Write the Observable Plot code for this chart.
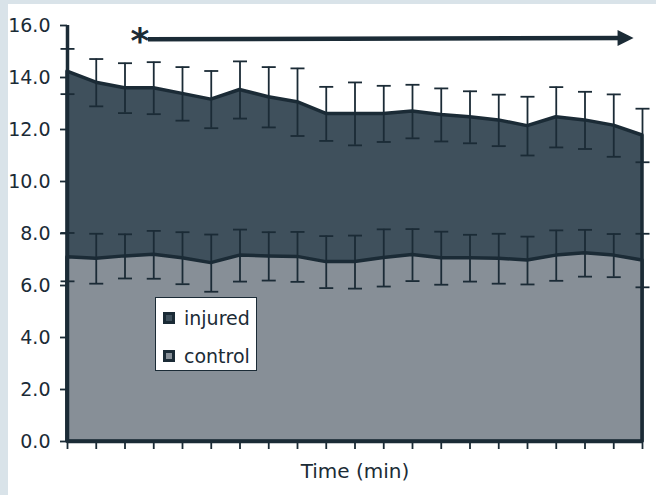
<!DOCTYPE html>
<html>
<head>
<meta charset="utf-8">
<script src="https://cdn.jsdelivr.net/npm/d3@7"></script>
<script src="https://cdn.jsdelivr.net/npm/@observablehq/plot@0.6"></script>
<style>
  html, body { margin: 0; padding: 0; width: 656px; height: 495px; overflow: hidden; background: #d9e3e9; }
  #panel { position: absolute; left: 8px; top: 4px; width: 648px; height: 491px; background: #ffffff; }
  #legend { position: absolute; left: 147px; top: 293px; width: 102px; height: 74px; box-sizing: border-box;
            border: 1.5px solid #1b2b36; background: #ffffff; font-family: "DejaVu Sans"; font-size: 19px; color: #1b2b36; }
  .item { position: absolute; left: 7px; height: 24px; display: flex; align-items: center; }
  .sw { width: 12px; height: 12px; box-sizing: border-box; border: 3px solid #1b2b36; margin-right: 9px; }
</style>
</head>
<body>
<div id="panel"></div>
<script>
// ---- data ----
const timePoints = [0,1,2,3,4,5,6,7,8,9,10,11,12,13,14,15,16,17,18,19,20];
const injuredMean = [14.23,13.80,13.59,13.59,13.37,13.15,13.52,13.24,13.05,12.60,12.60,12.60,12.69,12.56,12.47,12.35,12.13,12.47,12.35,12.15,11.77];
const injuredSD   = [0.87,0.91,0.96,1.00,1.03,1.10,1.10,1.16,1.30,1.04,1.21,1.08,1.03,1.02,1.00,0.99,1.13,1.16,1.10,1.20,1.03];
const controlMean = [7.09,7.03,7.12,7.18,7.05,6.86,7.15,7.12,7.10,6.90,6.90,7.06,7.17,7.05,7.05,7.03,6.96,7.15,7.24,7.15,6.96];
const controlSD   = [0.93,0.96,0.85,0.92,1.00,1.10,1.00,0.93,0.96,1.00,1.02,1.10,1.00,1.02,0.90,0.96,0.92,0.97,0.90,0.83,1.03];
const yTicks = [0,2,4,6,8,10,12,14,16];
const seriesNames = ["injured", "control"];
const xLabel = "Time (min)";
// significance annotation
const sigMark = "*";
const sigStart = 2.8, sigEnd = 19.5, sigTip = 19.69, sigLevelStart = 15.47, sigLevelEnd = 15.52, starX = 2.52;

// ---- styles ----
const dark = "#1b2b36";
const injuredFill = "#3f505c";
const controlFill = "#878f97";

const rows = timePoints.map((t, i) => ({
  t, injured: injuredMean[i], injuredSD: injuredSD[i], control: controlMean[i], controlSD: controlSD[i]
}));
const caps = rows.flatMap(d => [
  {t: d.t, y: d.injured + d.injuredSD}, {t: d.t, y: d.injured - d.injuredSD},
  {t: d.t, y: d.control + d.controlSD}, {t: d.t, y: d.control - d.controlSD}
]);

const capSymbol = { draw(ctx, size) { const r = Math.sqrt(size / Math.PI); ctx.moveTo(-r, 0); ctx.lineTo(r, 0); } };
const headSymbol = { draw(ctx) { ctx.moveTo(0, 0); ctx.lineTo(-16, -8); ctx.lineTo(-16, 8); ctx.closePath(); } };

const chart = Plot.plot({
  width: 648, height: 491,
  marginLeft: 59, marginRight: 14, marginTop: 21, marginBottom: 54,
  x: {domain: [0, 20]},
  y: {domain: [0, 16]},
  style: {background: "transparent", color: dark, fontFamily: "DejaVu Sans", fontSize: "19px"},
  marks: [
    Plot.areaY(rows, {x: "t", y: "injured", fill: injuredFill, stroke: dark, strokeWidth: 3.5}),
    Plot.areaY(rows, {x: "t", y: "control", fill: controlFill, stroke: dark, strokeWidth: 3.5}),
    Plot.ruleX(rows, {x: "t", y1: d => d.injured - d.injuredSD, y2: d => d.injured + d.injuredSD, stroke: dark, strokeWidth: 1.8}),
    Plot.ruleX(rows, {x: "t", y1: d => d.control - d.controlSD, y2: d => d.control + d.controlSD, stroke: dark, strokeWidth: 1.8}),
    Plot.dot(caps, {x: "t", y: "y", symbol: capSymbol, r: 7, fill: "none", stroke: dark, strokeWidth: 1.8}),
    Plot.axisY({ticks: yTicks, tickFormat: d => d.toFixed(1), tickSize: 7, tickPadding: 10, label: null,
                fontSize: 19, strokeWidth: 1.8}),
    Plot.axisX({ticks: timePoints, tickFormat: () => "", tickSize: 8, label: null, strokeWidth: 1.8}),
    Plot.ruleX([0], {stroke: dark, strokeWidth: 3.5}),
    Plot.ruleY([0], {stroke: dark, strokeWidth: 3.5}),
    Plot.text([xLabel], {frameAnchor: "bottom", lineAnchor: "middle", dy: 30, fontSize: 20, fill: dark}),
    Plot.link([0], {x1: () => sigStart, y1: () => sigLevelStart, x2: () => sigEnd, y2: () => sigLevelEnd, stroke: dark, strokeWidth: 4.5}),
    Plot.dot([0], {x: () => sigTip, y: () => sigLevelEnd, symbol: headSymbol, r: 8, fill: dark, stroke: "none"}),
    Plot.text([sigMark], {x: () => starX, y: () => sigLevelStart, text: d => d, fontSize: 36, fontWeight: "bold",
                           lineAnchor: "middle", textAnchor: "middle", dy: 2, fill: dark})
  ]
});
const panel = document.getElementById("panel");
panel.appendChild(chart);

// legend
const legend = document.createElement("div");
legend.id = "legend";
const fills = [injuredFill, controlFill];
seriesNames.forEach((name, i) => {
  const it = document.createElement("div");
  it.className = "item";
  it.style.top = (i === 0 ? 8 : 46) + "px";
  const sw = document.createElement("span");
  sw.className = "sw";
  sw.style.background = fills[i];
  it.appendChild(sw);
  it.appendChild(document.createTextNode(name));
  legend.appendChild(it);
});
panel.appendChild(legend);
</script>
</body>
</html>
